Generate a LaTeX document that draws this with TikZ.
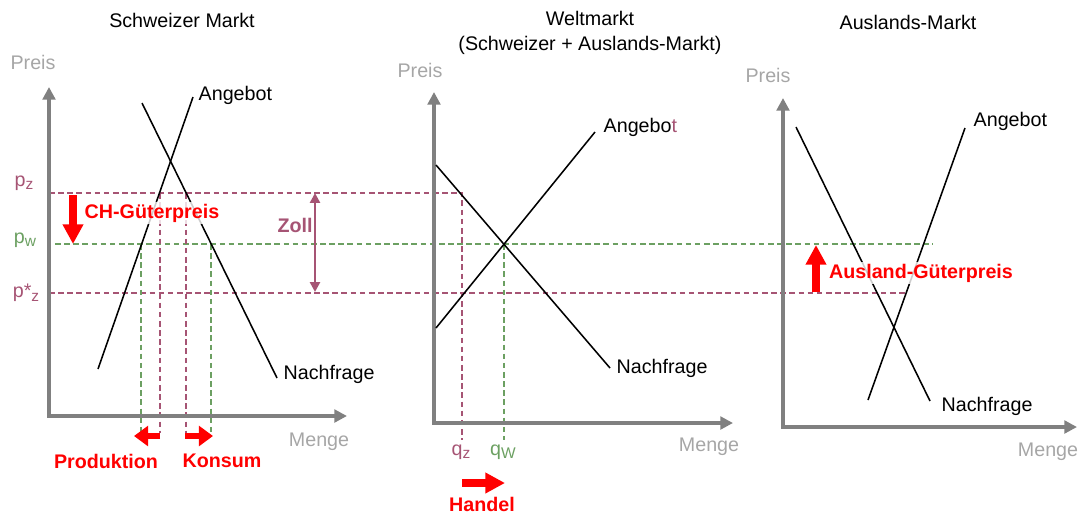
\documentclass[tikz,border=0pt]{standalone}
\usepackage{fontspec}
\setmainfont{Liberation Sans}
\usetikzlibrary{arrows.meta}
\definecolor{zollrot}{RGB}{166,84,116}
\definecolor{weltgruen}{RGB}{108,160,98}
\definecolor{achsgrau}{RGB}{128,128,128}
\definecolor{textgrau}{RGB}{166,166,166}
\newcommand{\schrift}{\fontsize{14}{17.7}\selectfont}
\newcommand{\tief}[1]{\raisebox{-0.35ex}{\fontsize{11}{11}\selectfont #1}}
\tikzstyle{achse} = [draw=achsgrau, line width=2.6pt, {Triangle[length=9pt,width=9pt]}-{Triangle[length=9pt,width=9pt]}]
\tikzstyle{kurve} = [draw=black, line width=1.1pt]
\tikzstyle{linie z} = [draw=zollrot, line width=1pt, dash pattern=on 4pt off 2.5pt]
\tikzstyle{linie w} = [draw=weltgruen, line width=1pt, dash pattern=on 4pt off 2.5pt]
\tikzstyle{achstext} = [text=textgrau]
\tikzstyle{kurventext} = [anchor=west, inner sep=1pt]
\tikzstyle{rottext} = [text=red, font=\schrift\bfseries, inner sep=1pt]
\tikzstyle{kasten} = [fill=white, fill opacity=.8, text opacity=1]
\tikzstyle{pfeil klein} = [draw=red, line width=4.3pt, -{Triangle[length=10pt,width=14pt]}]
\tikzstyle{pfeil gross} = [draw=red, line width=5.7pt, -{Triangle[length=14pt,width=14pt]}]
\tikzstyle{zollpfeil} = [draw=zollrot, line width=2pt, {Triangle[length=7pt,width=7pt]}-{Triangle[length=7pt,width=7pt]}]

\begin{document}
\begin{tikzpicture}[x=0.025cm, y=-0.025cm, font=\schrift]
\useasboundingbox (0,0) rectangle (1079,515);

% Schweizer Markt
\coordinate (o1) at (49,416);
\coordinate (y1) at (49,87);
\coordinate (x1) at (347,416);
\coordinate (a1u) at (98,369);
\coordinate (a1o) at (193,97);
\coordinate (n1o) at (142,103);
\coordinate (n1u) at (277,378);
%
\coordinate (pz) at (49,193);
\coordinate (pw) at (55,244);
\coordinate (psz) at (49,293);
	\coordinate (prod w) at (141,244);
	\coordinate (prod w u) at (141,433);
	\coordinate (prod z) at (160,193);
	\coordinate (prod z u) at (160,433);
	\coordinate (kons z) at (186,193);
	\coordinate (kons z u) at (186,433);
	\coordinate (kons w) at (211,244);
	\coordinate (kons w u) at (211,433);
%
% Weltmarkt
\coordinate (o2) at (434,423);
\coordinate (y2) at (434,92);
\coordinate (x2) at (733,423);
\coordinate (a2u) at (436,328);
\coordinate (a2o) at (595,132);
\coordinate (n2o) at (436,165);
\coordinate (n2u) at (610,368);
	\coordinate (qz u) at (462,440);
	\coordinate (gleich) at (504,244);
	\coordinate (qw u) at (504,440);
%
% Auslands-Markt
\coordinate (o3) at (783,427);
\coordinate (y3) at (783,98);
\coordinate (x3) at (1077,427);
\coordinate (a3u) at (868,400);
\coordinate (a3o) at (965,128);
\coordinate (n3o) at (796,127);
\coordinate (n3u) at (930,401);
	\coordinate (pw ende) at (933,244);
	\coordinate (psz ende) at (907,293);

% gestrichelte Linien
\draw [linie z] (pz) -| (qz u);
\draw [linie w] (pw) -- (pw ende);
\draw [linie z] (psz) -- (psz ende);
	\draw [linie w] (prod w) -- (prod w u);
	\draw [linie z] (prod z) -- (prod z u);
	\draw [linie z] (kons z) -- (kons z u);
	\draw [linie w] (kons w) -- (kons w u);
	\draw [linie w] (gleich) -- (qw u);

% Achsen
\draw [achse] (y1) -- (o1) -- (x1);
\draw [achse] (y2) -- (o2) -- (x2);
\draw [achse] (y3) -- (o3) -- (x3);

% Angebot und Nachfrage
\draw [kurve] (a1u) -- (a1o);
\draw [kurve] (n1o) -- (n1u);
\draw [kurve] (a2u) -- (a2o);
\draw [kurve] (n2o) -- (n2u);
\draw [kurve] (a3u) -- (a3o);
\draw [kurve] (n3o) -- (n3u);

% Titel und Achsen
\node (titel1) at (182,20) {Schweizer Markt};
\node (titel2) [align=center] at (590,33) {Weltmarkt\\(Schweizer + Auslands-Markt)};
\node (titel3) at (908,22) {Auslands-Markt};
\node (preis1) [achstext] at (33,62) {Preis};
\node (preis2) [achstext] at (420,70) {Preis};
\node (preis3) [achstext] at (768,75) {Preis};
\node (menge1) [achstext] at (319,442) {Menge};
\node (menge2) [achstext] at (709,447) {Menge};
\node (menge3) [achstext] at (1048,452) {Menge};
%
\node (ang1) [kurventext] at (197,95) {Angebot};
\node (ang2) [kurventext] at (602,127) {Angebo\textcolor{zollrot}{t}};
\node (ang3) [kurventext] at (972,121) {Angebot};
\node (nach1) [kurventext] at (282,374) {Nachfrage};
\node (nach2) [kurventext] at (615,368) {Nachfrage};
\node (nach3) [kurventext] at (940,406) {Nachfrage};
%
\node (lab pz) [text=zollrot] at (24,183) {p\tief{z}};
\node (lab pw) [text=weltgruen] at (25,240) {p\tief{w}};
\node (lab psz) [text=zollrot] at (26,293) {p*\tief{z}};
\node (lab qz) [text=zollrot] at (461,452) {q\tief{z}};
\node (lab qw) [text=weltgruen] at (503,452) {q\tief{W}};

% rote Pfeile
\coordinate (ch o) at (73,195);
\coordinate (ch u) at (73,244);
\coordinate (aus u) at (816,292);
\coordinate (aus o) at (816,245);
\coordinate (prod r) at (160,436);
\coordinate (prod l) at (134,436);
\coordinate (kons l) at (185,436);
\coordinate (kons r) at (213,436);
\coordinate (handel l) at (462,483);
\coordinate (handel r) at (505,483);
\coordinate (zoll o) at (315,193);
\coordinate (zoll u) at (315,292);
%
\draw [pfeil gross] (ch o) -- (ch u);
\draw [pfeil gross] (aus u) -- (aus o);
\draw [pfeil klein] (prod r) -- (prod l);
\draw [pfeil klein] (kons l) -- (kons r);
\draw [pfeil gross] (handel l) -- (handel r);
\draw [zollpfeil] (zoll o) -- (zoll u);
%
\node (ch) [rottext, kasten] at (152,213) {CH-Güterpreis};
\node (zoll) [rottext, kasten, text=zollrot] at (295,225) {Zoll};
\node (ausland) [rottext, kasten] at (921,273) {Ausland-Güterpreis};
\node (produktion) [rottext] at (106,461) {Produktion};
\node (konsum) [rottext] at (222,461) {Konsum};
\node (handel) [rottext] at (482,504) {Handel};
\end{tikzpicture}
\end{document}
